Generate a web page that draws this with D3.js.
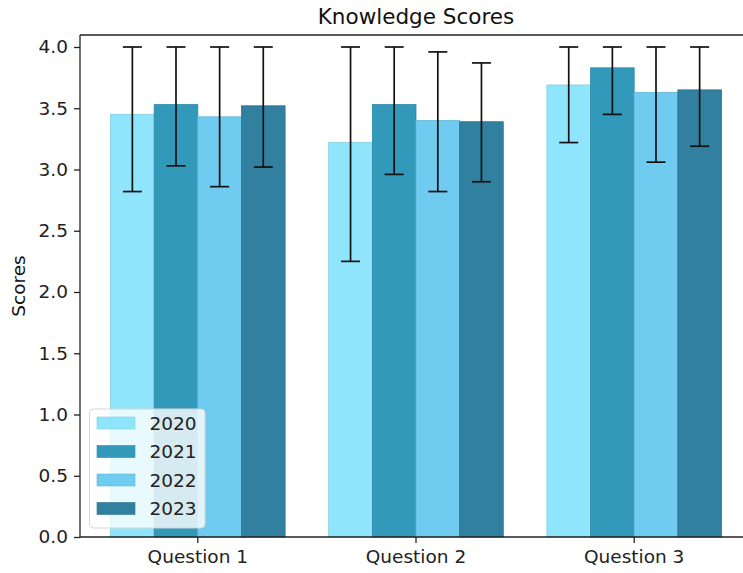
<!DOCTYPE html>
<html>
<head>
<meta charset="utf-8">
<script src="https://cdn.jsdelivr.net/npm/d3@7"></script>
<style>
  html, body { margin: 0; padding: 0; background: #fff; }
  svg { display: block; font-family: "DejaVu Sans", sans-serif; }
</style>
</head>
<body>
<svg id="chart" width="743" height="573"></svg>
<script>
// Knowledge score means per question and year, with error bar ranges
const questions = ["Question 1", "Question 2", "Question 3"];
const years = ["2020", "2021", "2022", "2023"];
const scores2020 = [3.45, 3.22, 3.69];
const scores2021 = [3.53, 3.53, 3.83];
const scores2022 = [3.43, 3.40, 3.63];
const scores2023 = [3.52, 3.39, 3.65];
const errLow2020 = [2.82, 2.25, 3.22];
const errLow2021 = [3.03, 2.96, 3.45];
const errLow2022 = [2.86, 2.82, 3.06];
const errLow2023 = [3.02, 2.90, 3.19];
const errHigh2020 = [4.00, 4.00, 4.00];
const errHigh2021 = [4.00, 4.00, 4.00];
const errHigh2022 = [4.00, 3.96, 4.00];
const errHigh2023 = [4.00, 3.87, 4.00];
const yTicks = [0.0, 0.5, 1.0, 1.5, 2.0, 2.5, 3.0, 3.5, 4.0];
const colors = ["#8fe6fc", "#3399bb", "#70cbf0", "#31809f"];

const seriesValues = [scores2020, scores2021, scores2022, scores2023];
const seriesLow = [errLow2020, errLow2021, errLow2022, errLow2023];
const seriesHigh = [errHigh2020, errHigh2021, errHigh2022, errHigh2023];

const rows = [];
years.forEach((yr, si) => {
  questions.forEach((q, qi) => {
    rows.push({ year: yr, si, question: q, value: seriesValues[si][qi],
                lo: seriesLow[si][qi], hi: seriesHigh[si][qi] });
  });
});

const svg = d3.select("#chart");
const frame = { left: 80, top: 35, right: 752, bottom: 537 };

// Axis runs from -0.54 to 2.54 category units; each category is one unit wide
const xUnit = d3.scaleLinear().domain([-0.54, 2.54]).range([frame.left, frame.right]);
const x = d3.scaleBand().domain(questions)
  .range([xUnit(-0.5), xUnit(2.5)]).paddingInner(0).paddingOuter(0);
const xs = d3.scaleBand().domain(years)
  .range([0.1 * x.bandwidth(), 0.9 * x.bandwidth()]);
const y = d3.scaleLinear().domain([0, 4.098]).range([frame.bottom, frame.top]);

const plot = svg.append("g");

// Bars
plot.selectAll("rect.bar").data(rows).join("rect")
  .attr("class", "bar")
  .attr("x", d => x(d.question) + xs(d.year))
  .attr("y", d => y(d.value))
  .attr("width", xs.bandwidth())
  .attr("height", d => y(0) - y(d.value))
  .attr("fill", d => colors[d.si])
  .attr("stroke", d => d3.color(colors[d.si]).darker(0.3))
  .attr("stroke-width", 0.8);

// Error bars
const capHalf = 9.5;
const eb = plot.selectAll("g.err").data(rows).join("g").attr("class", "err")
  .attr("stroke", "#111").attr("stroke-width", 1.7);
const cx = d => x(d.question) + xs(d.year) + xs.bandwidth() / 2;
eb.append("line").attr("x1", cx).attr("x2", cx)
  .attr("y1", d => y(d.lo)).attr("y2", d => y(d.hi));
eb.append("line").attr("x1", d => cx(d) - capHalf).attr("x2", d => cx(d) + capHalf)
  .attr("y1", d => y(d.lo)).attr("y2", d => y(d.lo));
eb.append("line").attr("x1", d => cx(d) - capHalf).attr("x2", d => cx(d) + capHalf)
  .attr("y1", d => y(d.hi)).attr("y2", d => y(d.hi));

// Axes
const yAxis = svg.append("g")
  .attr("transform", `translate(${frame.left},0)`)
  .call(d3.axisLeft(y).tickValues(yTicks).tickFormat(d3.format(".1f")).tickSizeOuter(0).tickSize(6).tickPadding(6));
const xAxis = svg.append("g")
  .attr("transform", `translate(0,${frame.bottom})`)
  .call(d3.axisBottom(x).tickSizeOuter(0).tickSize(6).tickPadding(4));
[yAxis, xAxis].forEach(a => {
  a.select(".domain").remove();
  a.selectAll(".tick line").attr("stroke", "#222").attr("stroke-width", 1.3);
  a.selectAll(".tick text").attr("fill", "#222").style("font-size", "18.5px")
    .style("font-family", "DejaVu Sans, sans-serif");
});
xAxis.selectAll(".tick text").attr("dy", "0.85em");

// Spines
const spine = svg.append("g").attr("stroke", "#222").attr("stroke-width", 1.3).attr("fill", "none");
spine.append("line").attr("x1", frame.left).attr("x2", frame.left).attr("y1", frame.top).attr("y2", frame.bottom);
spine.append("line").attr("x1", frame.left).attr("x2", frame.right).attr("y1", frame.bottom).attr("y2", frame.bottom);
spine.append("line").attr("x1", frame.left).attr("x2", frame.right).attr("y1", frame.top).attr("y2", frame.top);

// Title and y label
svg.append("text").attr("x", (frame.left + frame.right) / 2).attr("y", 24)
  .attr("text-anchor", "middle").style("font-size", "21.5px").attr("fill", "#111")
  .text("Knowledge Scores");
svg.append("text")
  .attr("transform", `translate(25,${(frame.top + frame.bottom) / 2}) rotate(-90)`)
  .attr("text-anchor", "middle").style("font-size", "18.5px").attr("fill", "#111")
  .text("Scores");

// Legend
const lg = svg.append("g").attr("transform", "translate(89.5,409)");
lg.append("rect").attr("width", 115.5).attr("height", 119).attr("rx", 4)
  .attr("fill", "rgba(255,255,255,0.8)").attr("stroke", "#d6d6d6").attr("stroke-width", 1);
years.forEach((yr, i) => {
  const row = lg.append("g").attr("transform", `translate(0,${14 + i * 28.5})`);
  row.append("rect").attr("x", 7.5).attr("y", -6).attr("width", 38).attr("height", 12)
    .attr("fill", colors[i]).attr("stroke", d3.color(colors[i]).darker(0.3)).attr("stroke-width", 0.6);
  row.append("text").attr("x", 60).attr("y", 0).attr("dy", "0.36em")
    .style("font-size", "18.5px").attr("fill", "#222").text(yr);
});
</script>
</body>
</html>
